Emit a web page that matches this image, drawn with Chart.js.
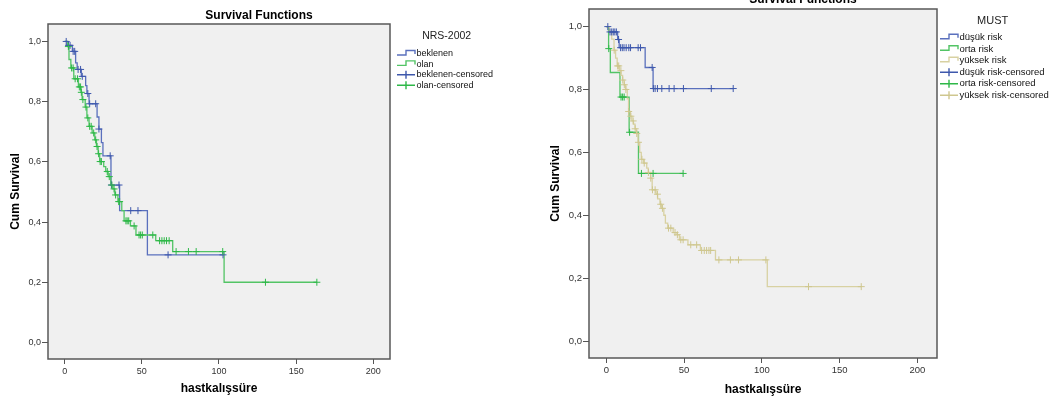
<!DOCTYPE html>
<html>
<head>
<meta charset="utf-8">
<script src="https://cdn.jsdelivr.net/npm/chart.js@4.4.1/dist/chart.umd.min.js"></script>
<style>
  html, body { margin: 0; padding: 0; background: #fff; }
  body { width: 1057px; height: 403px; position: relative; overflow: hidden; }
  .box { position: absolute; top: 0; height: 403px; }
  #nrsBox { left: 0; width: 530px; }
  #mustBox { left: 530px; width: 527px; }
</style>
</head>
<body>
<div class="box" id="nrsBox"><canvas id="nrsChart"></canvas></div>
<div class="box" id="mustBox"><canvas id="mustChart"></canvas></div>
<script>
// --- axis ticks ---
const timeTicks = [0, 50, 100, 150, 200];
const survTicks = [0, 0.2, 0.4, 0.6, 0.8, 1.0];

// --- NRS-2002: event times and survival right after each event ---
const beklenenTimes = [0, 1.5, 5, 7.1, 8.1, 10.8, 13.6, 14.4, 15.8, 21, 22.2, 23.8, 24.8, 30, 35.6, 53.6];
const beklenenSurv = [1, 0.987, 0.967, 0.929, 0.907, 0.884, 0.853, 0.827, 0.793, 0.749, 0.709, 0.664, 0.62, 0.523, 0.438, 0.291];
const beklenenCensored = [1, 2.5, 3.5, 5.5, 6.5, 8.7, 10.3, 11.4, 15, 16.2, 20.1, 22.2, 29.5, 30.3, 35.2, 42.8, 47.5, 67, 102.6];

const olanTimes = [0, 2, 2.8, 4, 5.9, 8.9, 10.6, 11.3, 13.3, 14.4, 15.8, 17.8, 19.5, 20.6, 21.7, 22.7, 25.3, 26.6, 28.2, 29.9, 31.2, 32.5, 34.5, 37, 38.5, 42.6, 46.2, 59, 70, 103.3];
const olanSurv = [1, 0.983, 0.94, 0.912, 0.876, 0.849, 0.831, 0.807, 0.782, 0.746, 0.718, 0.696, 0.673, 0.651, 0.627, 0.601, 0.584, 0.568, 0.551, 0.523, 0.51, 0.49, 0.468, 0.438, 0.404, 0.387, 0.357, 0.338, 0.302, 0.2];
const olanCensored = [2.4, 4.5, 5.5, 6.8, 8.3, 9.5, 10.3, 10.8, 11.8, 13.8, 15, 16.2, 17.2, 18.8, 20.1, 21, 22, 23, 23.8, 27.6, 28.9, 30.6, 32, 33, 35, 35.6, 39.7, 40.5, 41.5, 45, 48.2, 49.2, 50.3, 57.1, 61.5, 63, 64.5, 66, 67.7, 72.2, 80.2, 85.2, 102.4, 130.1, 163.4];

// --- MUST ---
const dusukTimes = [0, 1.5, 7.3, 8.3, 25, 30.1];
const dusukSurv = [1, 0.983, 0.959, 0.933, 0.87, 0.803];
const dusukCensored = [1, 2.4, 3.5, 4.5, 5.5, 6.5, 7.9, 9.2, 10.3, 11.4, 12.8, 14.5, 15.6, 20.5, 22, 29.5, 30.3, 31.4, 32.9, 35.7, 40.4, 43.6, 49.6, 67.5, 81.6];

const ortaTimes = [0, 1.5, 2.6, 8.8, 14.7, 20.7];
const ortaSurv = [1, 0.93, 0.854, 0.776, 0.664, 0.533];
const ortaCensored = [1.6, 9.5, 10.5, 11.5, 15, 22.6, 30.1, 49.4];

const yuksekTimes = [0, 2, 3.5, 5, 6, 7, 8.5, 9.5, 10.5, 11.5, 12.5, 13.5, 14.3, 15.5, 16.5, 17.5, 18.5, 19.5, 20.5, 21.5, 22.5, 24, 26, 27, 28.5, 29.5, 32, 33, 34.5, 35.5, 37, 38, 39.5, 43, 45.5, 47, 52.5, 60.5, 70.2, 103.5];
const yuksekSurv = [1, 0.985, 0.96, 0.925, 0.9, 0.875, 0.86, 0.845, 0.83, 0.815, 0.8, 0.77, 0.73, 0.715, 0.7, 0.69, 0.675, 0.66, 0.632, 0.6, 0.578, 0.566, 0.55, 0.536, 0.518, 0.481, 0.467, 0.452, 0.435, 0.422, 0.4, 0.375, 0.359, 0.345, 0.338, 0.322, 0.306, 0.288, 0.258, 0.173];
const yuksekCensored = [5.1, 7.3, 8, 9.4, 10.6, 11.6, 12.6, 14.4, 15.8, 17.3, 18.6, 19.6, 20.7, 22.9, 24.4, 27.1, 28.6, 29.7, 31.4, 32.9, 35, 36.1, 40, 41.5, 44.2, 45.7, 47.9, 49.4, 54.3, 58.1, 61.3, 63, 64.5, 66, 67.1, 72.4, 79.8, 85, 102.6, 130, 163.9];

const BLUE_LINE = "#5a70bd", BLUE_MARK = "#3e58ac";
const GREEN_LINE = "#52c465", GREEN_MARK = "#2eb848";
const TAN_LINE = "#d8d1a2", TAN_MARK = "#cfc78f";

Chart.defaults.font.family = "Arial, 'Liberation Sans', sans-serif";

// survival value in force at time t
function stepValue(times, surv, t) {
  let s = surv[0];
  for (let i = 0; i < times.length; i++) if (times[i] <= t) s = surv[i];
  return s;
}

function curvePoints(times, surv, censored) {
  const pts = times.map((t, i) => ({ x: t, y: surv[i] }));
  const last = Math.max(times[times.length - 1], ...censored);
  pts.push({ x: last, y: surv[surv.length - 1] }); // tail out to last follow-up
  return pts;
}

function lineSet(label, times, surv, censored, color, order) {
  return {
    label, order,
    data: curvePoints(times, surv, censored),
    borderColor: color, borderWidth: 1.3,
    stepped: "before", pointRadius: 0, fill: false,
  };
}

function censorSet(label, times, surv, censored, color, order) {
  return {
    label, order,
    data: censored.map((t) => ({ x: t, y: stepValue(times, surv, t) })),
    showLine: false, pointStyle: "cross", pointRadius: 3.5,
    borderColor: color, borderWidth: 1,
  };
}

// --- SPSS look: grey plot area, frame, title and legend ---
const spssPlugin = {
  id: "spss",
  beforeDatasetsDraw(chart) {
    const { ctx, chartArea: a } = chart;
    ctx.save();
    ctx.fillStyle = "#f0f0f0";
    ctx.fillRect(a.left, a.top, a.right - a.left, a.bottom - a.top);
    ctx.restore();
  },
  afterDraw(chart, args, opts) {
    const { ctx, chartArea: a } = chart;
    ctx.save();
    ctx.strokeStyle = "#585858";
    ctx.lineWidth = 1.5;
    ctx.strokeRect(a.left, a.top, a.right - a.left, a.bottom - a.top);

    ctx.fillStyle = "#000";
    ctx.textAlign = "center";
    ctx.textBaseline = "alphabetic";
    ctx.font = "bold 12px Arial, 'Liberation Sans', sans-serif";
    ctx.fillText("Survival Functions", opts.titleX, opts.titleY);

    const lg = opts.legend;
    ctx.font = lg.titleSize + "px Arial, 'Liberation Sans', sans-serif";
    ctx.fillStyle = "#222";
    ctx.textBaseline = "middle";
    ctx.fillText(lg.title, lg.titleX, lg.titleY);

    ctx.font = lg.size + "px Arial, 'Liberation Sans', sans-serif";
    ctx.textAlign = "left";
    lg.items.forEach((it, i) => {
      const y = lg.y0 + i * lg.dy;
      const x0 = lg.x, x1 = lg.x + lg.w, xm = lg.x + lg.w * 0.5;
      ctx.strokeStyle = it.color;
      ctx.lineWidth = 1.4;
      ctx.beginPath();
      if (it.kind === "line") {
        ctx.moveTo(x0, y + 1);
        ctx.lineTo(xm, y + 1);
        ctx.lineTo(xm, y - 3.5);
        ctx.lineTo(x1, y - 3.5);
        ctx.lineTo(x1, y);
      } else {
        ctx.moveTo(x0, y);
        ctx.lineTo(x1, y);
        ctx.moveTo(xm, y - 4);
        ctx.lineTo(xm, y + 4);
      }
      ctx.stroke();
      ctx.fillStyle = "#111";
      ctx.fillText(it.label, x1 + 1.5, y);
    });
    ctx.restore();
  },
};

function makeChart(canvasId, cfg) {
  const titleFont = { size: 12, weight: "bold" };
  return new Chart(document.getElementById(canvasId), {
    type: "line",
    data: { datasets: cfg.datasets },
    options: {
      responsive: true,
      maintainAspectRatio: false,
      animation: false,
      events: [],
      layout: { padding: { top: cfg.padTop, right: cfg.padRight, left: 0, bottom: 0 } },
      plugins: {
        legend: { display: false },
        tooltip: { enabled: false },
        spss: cfg.spss,
      },
      scales: {
        x: {
          type: "linear",
          min: cfg.xMin,
          max: cfg.xMax,
          afterBuildTicks: (s) => { s.ticks = timeTicks.map((v) => ({ value: v })); },
          afterFit: (s) => { s.height = cfg.xHeight; },
          grid: { drawOnChartArea: false, tickLength: 5, color: "#555" },
          border: { display: false },
          ticks: { font: { size: cfg.tickSize }, color: "#333", padding: 2, maxRotation: 0 },
          title: { display: true, text: "hastkalışsüre", font: titleFont, color: "#000", padding: { top: 0, bottom: cfg.xTitlePad } },
        },
        y: {
          min: cfg.yMin,
          max: cfg.yMax,
          afterBuildTicks: (s) => { s.ticks = survTicks.map((v) => ({ value: v })); },
          afterFit: (s) => { s.width = cfg.yWidth; },
          grid: { drawOnChartArea: false, tickLength: 6, color: "#555" },
          border: { display: false },
          ticks: { font: { size: cfg.tickSize }, color: "#333", padding: 1, callback: (v) => v.toFixed(1).replace(".", ",") },
          title: { display: true, text: "Cum Survival", font: titleFont, color: "#000", padding: { top: cfg.yTitlePad, bottom: 0 } },
        },
      },
    },
    plugins: [spssPlugin],
  });
}

makeChart("nrsChart", {
  datasets: [
    lineSet("beklenen", beklenenTimes, beklenenSurv, beklenenCensored, BLUE_LINE, 3),
    lineSet("olan", olanTimes, olanSurv, olanCensored, GREEN_LINE, 2),
    censorSet("beklenen-censored", beklenenTimes, beklenenSurv, beklenenCensored, BLUE_MARK, 1),
    censorSet("olan-censored", olanTimes, olanSurv, olanCensored, GREEN_MARK, 0),
  ],
  padTop: 24, padRight: 140, xHeight: 44, yWidth: 48,
  xMin: -10.8, xMax: 210.8, yMin: -0.055, yMax: 1.058,
  tickSize: 9, xTitlePad: 6.8, yTitlePad: 8,
  spss: {
    titleX: 259, titleY: 19.3,
    legend: {
      title: "NRS-2002", titleX: 446.7, titleY: 36.5, titleSize: 10.5,
      x: 397, w: 18, y0: 54, dy: 10.4, size: 9,
      items: [
        { label: "beklenen", color: BLUE_LINE, kind: "line" },
        { label: "olan", color: GREEN_LINE, kind: "line" },
        { label: "beklenen-censored", color: BLUE_MARK, kind: "mark" },
        { label: "olan-censored", color: GREEN_MARK, kind: "mark" },
      ],
    },
  },
});

makeChart("mustChart", {
  datasets: [
    lineSet("düşük risk", dusukTimes, dusukSurv, dusukCensored, BLUE_LINE, 5),
    lineSet("orta risk", ortaTimes, ortaSurv, ortaCensored, GREEN_LINE, 4),
    lineSet("yüksek risk", yuksekTimes, yuksekSurv, yuksekCensored, TAN_LINE, 3),
    censorSet("düşük risk-censored", dusukTimes, dusukSurv, dusukCensored, BLUE_MARK, 2),
    censorSet("orta risk-censored", ortaTimes, ortaSurv, ortaCensored, GREEN_MARK, 1),
    censorSet("yüksek risk-censored", yuksekTimes, yuksekSurv, yuksekCensored, TAN_MARK, 0),
  ],
  padTop: 9, padRight: 120, xHeight: 45, yWidth: 59,
  xMin: -11.1, xMax: 212.6, yMin: -0.054, yMax: 1.056,
  tickSize: 9.5, xTitlePad: 5.8, yTitlePad: 18.8,
  spss: {
    titleX: 273, titleY: 3.3,
    legend: {
      title: "MUST", titleX: 462.7, titleY: 20.5, titleSize: 11,
      x: 410, w: 18, y0: 37.8, dy: 11.5, size: 9.5,
      items: [
        { label: "düşük risk", color: BLUE_LINE, kind: "line" },
        { label: "orta risk", color: GREEN_LINE, kind: "line" },
        { label: "yüksek risk", color: TAN_LINE, kind: "line" },
        { label: "düşük risk-censored", color: BLUE_MARK, kind: "mark" },
        { label: "orta risk-censored", color: GREEN_MARK, kind: "mark" },
        { label: "yüksek risk-censored", color: TAN_MARK, kind: "mark" },
      ],
    },
  },
});
</script>
</body>
</html>
